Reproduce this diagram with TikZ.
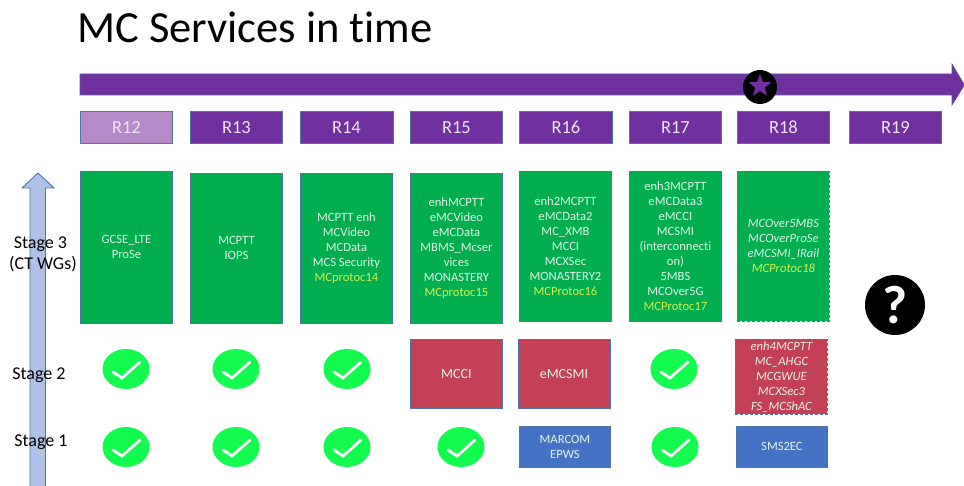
\documentclass[tikz,border=0pt]{standalone}
\usepackage{fontspec}
\setmainfont[Ligatures=NoCommon]{Carlito}
\usetikzlibrary{shapes.geometric}
\definecolor{purp}{HTML}{7030A0}
\definecolor{lpurp}{HTML}{B38BC8}
\definecolor{grn}{HTML}{00AE50}
\definecolor{redb}{HTML}{C44055}
\definecolor{blub}{HTML}{4472C4}
\definecolor{chk}{HTML}{12FB4E}
\definecolor{edge}{HTML}{4E74A8}
\definecolor{arr}{HTML}{AEC1E6}
\definecolor{yel}{HTML}{D4F04A}
\definecolor{ltxt}{HTML}{E4F5EA}
\newcommand{\yl}[1]{\textcolor{yel}{#1}}
\tikzset{
  x=1pt,y=-1pt,
  rel/.style={draw=edge,line width=0.9pt,fill=purp,text=white!88!purp,font=\fontsize{18.5}{18.5}\selectfont,anchor=north west,inner sep=0pt,align=center},
  base/.style={draw=edge,line width=0.9pt,text=ltxt,anchor=north west,inner sep=0pt,align=center,font=\fontsize{12.6}{15}\selectfont},
  dashbox/.style={dash pattern=on 3pt off 2pt},
  stagelbl/.style={text=black,font=\fontsize{18}{21}\selectfont,inner sep=0pt,align=center},
  okmark/.style={ellipse,fill=chk,minimum width=47pt,minimum height=40pt,inner sep=0pt}
}
\newcommand{\boxat}[7]{\node[base,#1,minimum width=#4pt,minimum height=#5pt] (#2) at (#3) {#7};}
\newcommand{\okat}[2]{%
  \node[okmark] (#1) at (#2) {};
  \draw[white,line width=2.8pt,line cap=round,line join=miter] ([xshift=-13pt,yshift=-3pt]#1.center) -- ([xshift=-4pt,yshift=-9pt]#1.center) -- ([xshift=14pt,yshift=7pt]#1.center);
}
\begin{document}
\begin{tikzpicture}
\useasboundingbox (0,0) rectangle (964,486);
\fill[white] (0,0) rectangle (964,486);

\node[anchor=base west,inner sep=0pt,text=black,font=\fontsize{44.5}{44.5}\selectfont] (title) at (77,43) {MC Services in time};

% vertical stage arrow
\begin{scope}
\clip (0,0) rectangle (964,486);
\draw[edge,fill=arr,line width=0.9pt] (30,495) -- (30,188) -- (22,188) -- (38,173) -- (54,188) -- (45.5,188) -- (45.5,495) -- cycle;
\end{scope}

% timeline
\draw[edge!60!purp,fill=purp,line width=0.6pt] (80,74) -- (952,74) -- (952,64) -- (964.5,85) -- (952,105) -- (952,95) -- (80,95) -- cycle;

% star
\node[circle,fill=black,minimum size=34pt,inner sep=0pt] (starbg) at (760,87) {};
\node[star,star points=5,star point ratio=2.4,fill=purp,minimum size=24pt,inner sep=0pt] (starfg) at (760,86) {};

% releases
\node[rel,fill=lpurp,minimum width=92pt,minimum height=32pt] (r12) at (80,111) {R12};
\node[rel,minimum width=92pt,minimum height=32pt] (r13) at (190,111) {R13};
\node[rel,minimum width=93pt,minimum height=32pt] (r14) at (299.5,111) {R14};
\node[rel,minimum width=92pt,minimum height=32pt] (r15) at (410,111) {R15};
\node[rel,minimum width=93pt,minimum height=32pt] (r16) at (519,111) {R16};
\node[rel,minimum width=92pt,minimum height=32pt] (r17) at (629,111) {R17};
\node[rel,minimum width=92pt,minimum height=32pt] (r18) at (737,111) {R18};
\node[rel,minimum width=92pt,minimum height=32pt] (r19) at (849,111) {R19};

% stage 3
\boxat{fill=grn}{g12}{80,171}{92}{152}{}{GCSE\_LTE\\ProSe}
\boxat{fill=grn}{g13}{190,173}{92}{150}{}{MCPTT\\IOPS}
\boxat{fill=grn}{g14}{300,173}{92}{150}{}{MCPTT enh\\MCVideo\\MCData\\MCS Security\\\yl{MCprotoc14}}
\boxat{fill=grn}{g15}{410,173}{92}{150}{}{enhMCPTT\\eMCVideo\\eMCData\\MBMS\_Mcser\\vices\\MONASTERY\\\yl{MCprotoc15}}
\boxat{fill=grn}{g16}{519,171}{92}{150}{}{enh2MCPTT\\eMCData2\\MC\_XMB\\MCCI\\MCXSec\\MONASTERY2\\\yl{MCProtoc16}}
\boxat{fill=grn}{g17}{629,171}{92}{150}{}{enh3MCPTT\\eMCData3\\eMCCI\\MCSMI\\(interconnecti\\on)\\5MBS\\MCOver5G\\\yl{MCProtoc17}}
\boxat{fill=grn,dashbox}{g18}{737,171}{92}{150}{}{\itshape MCOver5MBS\\\itshape MCOverProSe\\\itshape eMCSMI\_IRail\\\itshape\yl{MCProtoc18}}

% stage 2
\okat{a12}{126,369}
\okat{a13}{236,369}
\okat{a14}{347,369}
\boxat{fill=redb}{a15}{410,339}{92}{69}{}{\fontsize{14}{15}\selectfont MCCI}
\boxat{fill=redb}{a16}{517.5,339}{92}{69}{}{\fontsize{14}{15}\selectfont eMCSMI}
\okat{a17}{674,369}
\boxat{fill=redb,dashbox}{a18}{735,339}{92}{75}{}{\itshape enh4MCPTT\\\itshape MC\_AHGC\\\itshape MCGWUE\\\itshape MCXSec3\\\itshape FS\_MCShAC}

% stage 1
\okat{b12}{126,447}
\okat{b13}{236,447}
\okat{b14}{347,447}
\okat{b15}{461,447}
\boxat{fill=blub}{b16}{519,426}{91}{41}{}{MARCOM\\EPWS}
\okat{b17}{675,447}
\boxat{fill=blub}{b18}{736,426}{91}{41}{}{SMS2EC}

% question mark
\node[circle,fill=black,minimum size=60pt,inner sep=0pt,text=white,font=\fontsize{54}{54}\selectfont\bfseries] (q) at (895,305) {?};

% labels
\node[stagelbl] (s3) at (43,254) {\hspace*{-5pt}Stage 3\\(CT WGs)};
\node[stagelbl] (s2) at (39,375) {Stage 2};
\node[stagelbl] (s1) at (41,442) {Stage 1};
\end{tikzpicture}
\end{document}
